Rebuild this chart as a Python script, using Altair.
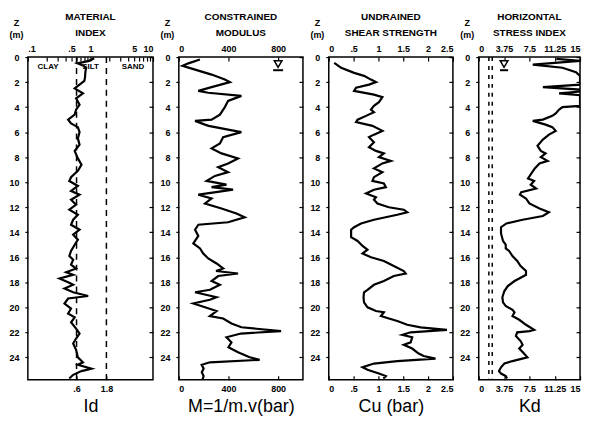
import altair as alt
import pandas as pd

FONT = "Liberation Sans"

# ---------------- data ----------------
id_depth = [0.1, 0.3, 0.5, 0.7, 0.9, 1.2, 1.6, 1.9, 2.2, 2.5,
            2.9, 3.3, 3.8, 4.2, 4.6, 5.0, 5.3, 5.6, 6.0, 6.5,
            7.0, 7.5, 8.1, 8.6, 9.1, 9.6, 9.9, 10.3, 10.7, 11.0,
            11.4, 11.8, 12.2, 12.6, 13.0, 13.4, 13.8, 14.2, 14.6, 15.0,
            15.5, 15.9, 16.2, 16.6, 16.9, 17.2, 17.4, 17.7, 18.0, 18.2,
            18.5, 18.8, 19.1, 19.3, 19.7, 20.1, 20.5, 20.8, 21.2, 21.7,
            22.1, 22.5, 22.9, 23.4, 24.0, 24.4, 24.6, 24.9, 25.1, 25.4,
            25.7]
id_value = [1.15, 0.95, 0.62, 0.78, 0.85, 0.83, 0.82, 0.80, 0.67, 0.56,
            0.76, 0.59, 0.67, 0.59, 0.56, 0.44, 0.49, 0.63, 0.67, 0.63,
            0.67, 0.56, 0.63, 0.72, 0.63, 0.49, 0.46, 0.63, 0.49, 0.67,
            0.49, 0.59, 0.46, 0.63, 0.53, 0.49, 0.67, 0.53, 0.63, 0.56,
            0.49, 0.46, 0.53, 0.49, 0.59, 0.41, 0.53, 0.32, 0.44, 0.53,
            0.385, 0.53, 0.92, 0.44, 0.385, 0.49, 0.44, 0.56, 0.49, 0.59,
            0.67, 0.59, 0.53, 0.59, 0.63, 0.76, 0.63, 1.04, 0.72, 0.53,
            0.46]

m_depth = [0.2, 0.5, 0.7, 1.0, 1.4, 1.8, 2.0, 2.4, 2.7, 2.85,
           3.1, 3.5, 4.0, 4.6, 5.0, 5.1, 5.4, 5.5, 5.8, 6.0,
           6.4, 6.9, 7.3, 7.7, 8.1, 8.5, 8.8, 9.2, 9.5, 9.9,
           10.2, 10.4, 10.6, 10.8, 11.0, 11.3, 11.7, 12.1, 12.5, 12.8,
           13.2, 13.4, 13.8, 14.3, 14.9, 15.3, 15.7, 16.1, 16.5, 16.9,
           17.1, 17.3, 17.5, 17.9, 18.2, 18.6, 18.8, 19.2, 19.4, 19.7,
           20.0, 20.3, 20.7, 20.9, 21.3, 21.6, 21.9, 22.1, 22.4, 22.8,
           23.2, 23.6, 24.0, 24.2, 24.4, 24.6, 24.9, 25.2, 25.5, 25.8]
m_value = [170, 77, 30, 131, 264, 371, 411, 264, 157, 237,
           504, 397, 371, 331, 264, 131, 211, 240, 397, 504,
           357, 331, 264, 344, 477, 397, 317, 397, 291, 224,
           384, 264, 437, 300, 157, 264, 211, 344, 464, 531,
           397, 157, 131, 157, 117, 171, 197, 237, 304, 357,
           300, 477, 317, 264, 331, 251, 131, 304, 250, 117,
           211, 304, 250, 357, 424, 504, 824, 500, 384, 424,
           400, 477, 571, 651, 250, 184, 200, 185, 200, 190]

cu_depth = [0.46, 0.86, 1.26, 1.5, 1.8, 2.0, 2.2, 2.45, 2.7, 3.0,
            3.2, 3.6, 3.9, 4.2, 4.4, 4.7, 5.0, 5.2, 5.5, 5.9,
            6.2, 6.4, 6.8, 7.2, 7.5, 7.7, 8.0, 8.3, 8.5, 8.9,
            9.2, 9.6, 9.9, 10.1, 10.4, 10.6, 10.9, 11.2, 11.4, 11.7,
            12.0, 12.2, 12.4, 12.6, 13.0, 13.3, 13.6, 13.8, 14.4, 14.7,
            15.1, 15.4, 15.7, 16.0, 16.3, 16.7, 17.1, 17.3, 17.5, 17.9,
            18.2, 18.6, 18.8, 19.2, 19.6, 20.0, 20.3, 20.4, 20.7, 20.9,
            21.1, 21.4, 21.6, 21.8, 22.0, 22.2, 22.4, 22.8, 23.0, 23.3,
            23.7, 23.9, 24.1, 24.3, 24.5, 24.8, 25.0, 25.3, 25.5, 25.7]
cu_value = [0.11, 0.25, 0.51, 0.71, 0.85, 0.95, 0.81, 0.55, 0.51, 0.91,
            1.08, 1.01, 0.91, 0.85, 0.91, 0.75, 0.58, 0.55, 0.88, 1.08,
            0.91, 0.81, 0.91, 0.81, 0.95, 1.11, 1.01, 1.25, 1.08, 0.91,
            1.08, 0.91, 0.88, 1.11, 1.15, 0.91, 0.75, 0.95, 0.91, 0.98,
            1.21, 1.51, 1.58, 1.38, 0.91, 0.65, 0.51, 0.45, 0.45, 0.58,
            0.68, 0.78, 0.68, 0.85, 1.11, 1.31, 1.51, 1.55, 1.31, 1.11,
            0.91, 0.78, 0.71, 0.70, 0.71, 0.78, 0.95, 1.11, 1.05, 1.21,
            1.38, 1.58, 1.85, 2.38, 1.65, 1.48, 1.68, 1.65, 1.51, 1.68,
            1.81, 1.91, 2.15, 1.38, 0.91, 0.68, 0.78, 1.01, 1.15, 1.10]

kd_depth = [0.15, 0.3, 0.6, 0.85, 1.2, 1.5, 2.2, 2.4, 2.6, 2.75,
            2.9, 3.05, 3.9, 4.0, 4.2, 4.5, 4.7, 5.0, 5.1, 5.4,
            5.6, 5.9, 6.2, 6.6, 7.1, 7.5, 7.7, 8.0, 8.3, 8.5,
            8.9, 9.3, 9.7, 9.9, 10.2, 10.5, 10.8, 11.0, 11.3, 11.7,
            12.1, 12.4, 12.7, 13.0, 13.3, 13.6, 14.1, 14.7, 15.0, 15.3,
            15.5, 15.9, 16.3, 16.7, 17.1, 17.4, 17.7, 17.9, 18.3, 18.7,
            19.2, 19.6, 19.9, 20.2, 20.4, 20.7, 21.0, 21.4, 21.8, 21.9,
            22.0, 22.3, 22.7, 23.0, 23.3, 23.7, 24.0, 24.3, 24.5, 24.8,
            25.1, 25.3, 25.5, 25.7]
kd_value = [11.5, 15, 8.0, 12.4, 14.4, 15, 15, 9.5, 15, 15,
            11.9, 15, 15, 12.4, 11.9, 11.4, 10.9, 9.5, 8.0, 9.9,
            10.9, 11.4, 10.4, 9.5, 8.7, 9.2, 9.9, 9.2, 10.2, 9.0,
            8.3, 7.8, 7.3, 8.2, 7.7, 8.5, 6.3, 6.1, 7.0, 7.5,
            9.0, 10.4, 9.5, 6.5, 4.1, 3.3, 3.3, 3.6, 4.0, 4.0,
            4.5, 5.0, 5.7, 6.2, 7.0, 7.0, 6.0, 5.3, 4.3, 3.8,
            3.5, 3.6, 4.0, 5.0, 5.3, 5.0, 6.0, 7.0, 8.2, 7.5,
            5.7, 5.5, 6.2, 6.5, 6.0, 6.7, 7.2, 5.0, 3.8, 3.3,
            3.0, 3.3, 4.0, 4.2]

depth_ticks = list(range(0, 25, 2))
id_top_ticks = [0.1, 0.2, 0.3, 0.4, 0.5, 0.6, 0.7, 0.8, 0.9, 1,
                2, 3, 4, 5, 6, 7, 8, 9, 10]
id_top_labelled = [0.1, 0.5, 1, 5, 10]
id_bottom_ticks = [0.6, 1.8]
id_limits = [0.6, 1.8]
m_ticks = [0, 400, 800]
cu_ticks = [0, 0.5, 1, 1.5, 2, 2.5]
kd_ticks = [0, 3.75, 7.5, 11.25, 15]
kd_limits = [1.5, 2.0]
soil_names = ["CLAY", "SILT", "SAND"]
soil_pos = [0.21, 1.0, 4.8]
soil_depth = [0.8, 0.8, 0.8]
water_m = [800]
water_kd = [3.75]
water_depth = [0.55]
water_bar_depth = [1.05]

H = 325
ydom = [0, 25.8]
yscale = alt.Scale(domain=ydom, reverse=True, nice=False, zero=False)

NUM_EXPR = ("datum.value > 0 && datum.value < 1 ? '.' + substring('' + datum.value, 2)"
            " : '' + datum.value")


def panel(df, field, xscale, width, title, xtitle, top_vals, top_expr,
          bot_vals, extras):
    yleft = alt.Y("depth:Q", scale=yscale,
                  axis=alt.Axis(orient="left", values=depth_ticks, tickSize=3,
                                labelPadding=6, title=["Z", "(m)"], titleAngle=0,
                                titleAlign="center", titleBaseline="bottom",
                                titleX=-12, titleY=-30, titleFontSize=9,
                                titleFontWeight="bold", titleLineHeight=12,
                                domain=False, grid=False))
    line = alt.Chart(df).mark_line(color="black", strokeWidth=2.2, clip=True).encode(
        x=alt.X(f"{field}:Q", scale=xscale,
                axis=alt.Axis(orient="bottom", values=bot_vals, labelExpr=NUM_EXPR,
                              offset=-4, tickSize=4, labelPadding=5, title=xtitle,
                              titleFontSize=18, titleFontWeight="normal",
                              titlePadding=4, domain=False, grid=False)),
        y=yleft,
        order=alt.Order("depth:Q"),
    )
    top = alt.Chart(df).mark_point(opacity=0).encode(
        x=alt.X(f"{field}:Q", scale=xscale,
                axis=alt.Axis(orient="top", values=top_vals, labelExpr=top_expr,
                              offset=-4, tickSize=4, labelPadding=4, title=None,
                              domain=False, grid=False)),
        y=alt.Y("depth:Q", scale=yscale,
                axis=alt.Axis(orient="right", values=depth_ticks, offset=-4,
                              tickSize=4, labels=False, title=None,
                              domain=False, grid=False)),
    )
    layers = [line, top] + extras
    return alt.layer(*layers).resolve_axis(x="independent", y="independent").properties(
        width=width, height=H,
        title=alt.TitleParams(text=title, font=FONT, fontSize=10, fontWeight="bold",
                              anchor="middle", offset=-20, lineHeight=16, color="black"),
    )


def water_symbol(xvals, xscale, half):
    wdf = pd.DataFrame({"x": xvals, "d": water_depth,
                        "xa": [v - half for v in xvals], "xb": [v + half for v in xvals],
                        "db": water_bar_depth})
    tri = alt.Chart(wdf).mark_point(shape="triangle-down", filled=True, fill="white",
                                    stroke="black", strokeWidth=1.5, size=60,
                                    opacity=1).encode(
        x=alt.X("x:Q", scale=xscale, axis=None), y=alt.Y("d:Q", scale=yscale, axis=None))
    bar = alt.Chart(wdf).mark_rule(color="black", strokeWidth=2).encode(
        x=alt.X("xa:Q", scale=xscale, axis=None), x2="xb:Q",
        y=alt.Y("db:Q", scale=yscale, axis=None))
    return [tri, bar]


# ---------- panel 1 : material index ----------
id_df = pd.DataFrame({"depth": id_depth, "v": id_value})
id_scale = alt.Scale(type="log", domain=[0.1, 10], nice=False)
id_top_expr = ("indexof([0.1, 0.5, 1, 5, 10], datum.value) >= 0 ? (" + NUM_EXPR + ") : ''")
id_lim = alt.Chart(pd.DataFrame({"v": id_limits})).mark_rule(
    color="black", strokeDash=[6, 5], strokeWidth=1.5).encode(
    x=alt.X("v:Q", scale=id_scale, axis=None))
soil = alt.Chart(pd.DataFrame({"v": soil_pos, "depth": soil_depth, "t": soil_names})).mark_text(
    font=FONT, fontSize=8, fontWeight="bold", color="black").encode(
    x=alt.X("v:Q", scale=id_scale, axis=None), y=alt.Y("depth:Q", scale=yscale, axis=None),
    text="t:N")
p1 = panel(id_df, "v", id_scale, 126, ["MATERIAL", "INDEX"], "Id",
           id_top_ticks, id_top_expr, id_bottom_ticks, [id_lim, soil])

# ---------- panel 2 : constrained modulus ----------
m_df = pd.DataFrame({"depth": m_depth, "v": m_value})
m_scale = alt.Scale(domain=[0, 1000], nice=False, zero=False)
p2 = panel(m_df, "v", m_scale, 125, ["CONSTRAINED", "MODULUS"], "M=1/m.v(bar)",
           m_ticks, NUM_EXPR, m_ticks, water_symbol(water_m, m_scale, 40))

# ---------- panel 3 : undrained shear strength ----------
cu_df = pd.DataFrame({"depth": cu_depth, "v": cu_value})
cu_scale = alt.Scale(domain=[0, 2.5], nice=False, zero=False)
p3 = panel(cu_df, "v", cu_scale, 125, ["UNDRAINED", "SHEAR STRENGTH"], "Cu (bar)",
           cu_ticks, NUM_EXPR, cu_ticks, [])

# ---------- panel 4 : horizontal stress index ----------
kd_df = pd.DataFrame({"depth": kd_depth, "v": kd_value})
kd_scale = alt.Scale(domain=[0, 15], nice=False, zero=False)
kd_lim = alt.Chart(pd.DataFrame({"v": kd_limits})).mark_rule(
    color="black", strokeDash=[4, 5], strokeWidth=1.5).encode(
    x=alt.X("v:Q", scale=kd_scale, axis=None))
p4 = panel(kd_df, "v", kd_scale, 102, ["HORIZONTAL", "STRESS INDEX"], "Kd",
           kd_ticks, NUM_EXPR, kd_ticks, [kd_lim] + water_symbol(water_kd, kd_scale, 0.6))

chart = alt.hconcat(p1, p2, p3, p4, spacing=26, bounds="flush").properties(
    padding={"left": 0, "top": 2, "right": 0, "bottom": 0},
    background="white",
).configure_view(
    stroke="black", strokeWidth=1.5
).configure_axis(
    labelFont=FONT, labelFontSize=9, labelFontWeight="bold", labelColor="black",
    tickColor="black", tickWidth=1.2, titleFont=FONT, titleColor="black", grid=False,
)

chart.save("out.html", embed_options={"renderer": "svg", "actions": False})
